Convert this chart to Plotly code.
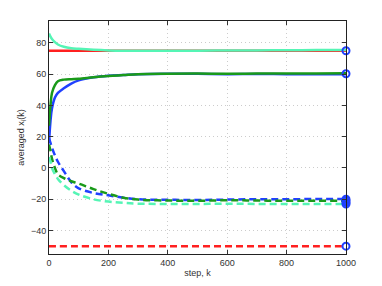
import plotly.graph_objects as go

# sample steps
k = [0, 5, 10, 20, 30, 50, 75, 100, 150, 200, 250, 300, 400, 500, 600, 700, 800, 900, 1000]

# solid curves (first component)
red_solid   = [75]*19
blue_solid  = [16, 30, 38, 45, 48, 51, 54, 56, 58, 59, 59.5, 60, 60.3, 60.2, 60, 60.1, 60, 60, 60]
green_solid = [27, 40, 48, 53, 55.5, 56.5, 56.8, 57, 58, 58.8, 59.4, 60, 60.3, 60.4, 60.2, 60.4, 60.5, 60.5, 60.6]
teal_solid  = [86, 84, 82.5, 80.5, 79, 77.5, 76.6, 76.2, 75.6, 75.2, 75, 75, 75, 75, 75.1, 75.2, 75.3, 75.4, 75.5]

# dashed curves (second component)
red_dash   = [-50]*19
blue_dash  = [19, 16, 13, 8, 4, -2, -9, -13, -16, -17.5, -19, -20, -20.3, -20.5, -20.2, -20, -20, -19.8, -19.8]
green_dash = [15, 11, 6, 0, -4, -6.5, -8.5, -10, -13.5, -16.5, -19, -20.2, -20.8, -21, -20.6, -20.8, -21, -21, -21]
teal_dash  = [7, 4, 0, -4, -7, -11, -14.5, -17, -20, -21.5, -22.3, -22.8, -23, -23, -22.8, -23, -23, -23, -23]

final_vals = [75, 60.3, -20, -21, -22, -23, -50]

colors = {"red": "#ff2020", "blue": "#2040ff", "green": "#1a9a1a", "teal": "#55f5b5"}

fig = go.Figure()
for name, ys in [("red", red_solid), ("blue", blue_solid), ("green", green_solid), ("teal", teal_solid)]:
    fig.add_trace(go.Scatter(x=k, y=ys, mode="lines", line=dict(color=colors[name], width=2.5, shape="spline")))
for name, ys in [("red", red_dash), ("blue", blue_dash), ("green", green_dash), ("teal", teal_dash)]:
    fig.add_trace(go.Scatter(x=k, y=ys, mode="lines",
                             line=dict(color=colors[name], width=2.5, dash="7px,4px", shape="spline")))
fig.add_trace(go.Scatter(x=[1000]*len(final_vals), y=final_vals, mode="markers",
                         marker=dict(symbol="circle-open", size=7, color="#2040ff", line=dict(width=2)),
                         cliponaxis=False))

axis_common = dict(showgrid=True, gridcolor="#cccccc", griddash="1px,3px", gridwidth=1,
                   ticks="inside", ticklen=4, tickcolor="#333", mirror="ticks", automargin=False,
                   showline=True, linecolor="#222", linewidth=1, zeroline=False,
                   tickfont=dict(size=9, color="#333"))
fig.update_xaxes(range=[0, 1000], tickvals=[0, 200, 400, 600, 800, 1000],
                 title=dict(text="step, k", font=dict(size=9, color="#333"), standoff=2), **axis_common)
fig.update_yaxes(range=[-55, 94], tickvals=[-40, -20, 0, 20, 40, 60, 80],
                 title=dict(text="averaged x<sub>i</sub>(k)", font=dict(size=9, color="#333"), standoff=4), **axis_common)
# page body has an 8px margin, so the figure is 8px smaller and offset
fig.update_layout(width=374, height=278, showlegend=False, plot_bgcolor="white", paper_bgcolor="white",
                  margin=dict(l=41, r=36, t=13, b=32), font=dict(family="Liberation Sans, Arial, sans-serif"))
fig.write_html("out.html")
